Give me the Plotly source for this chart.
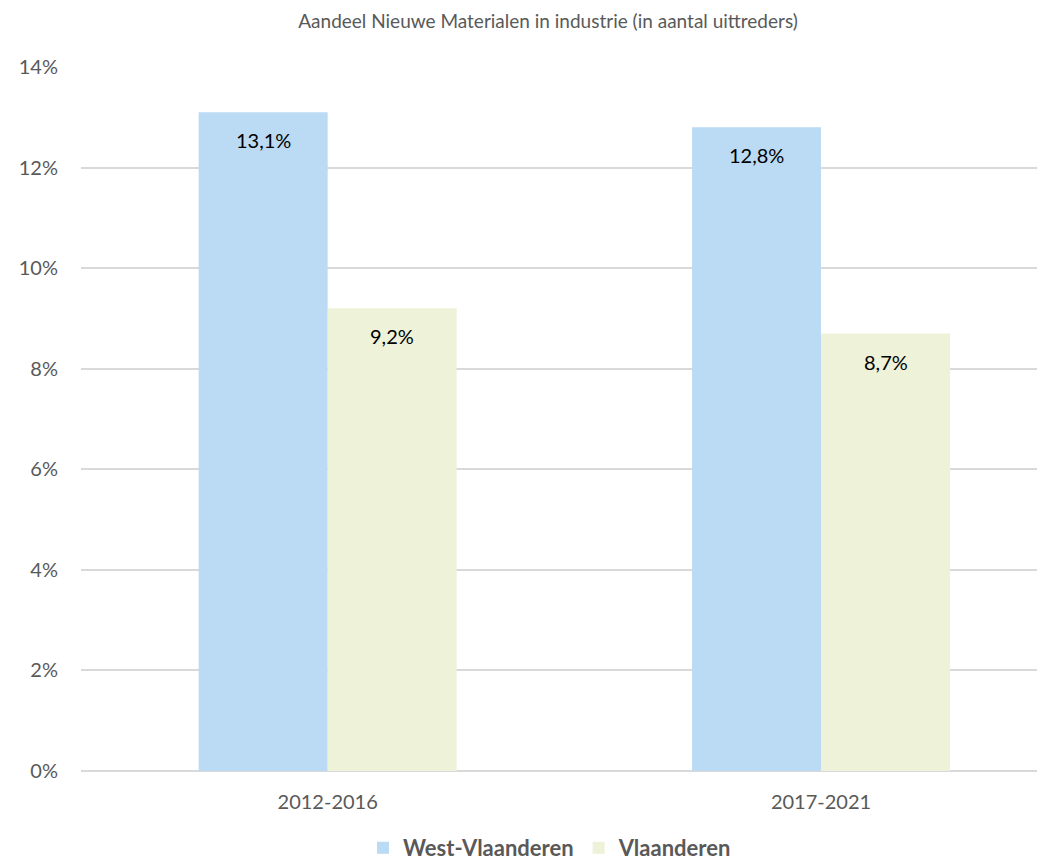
import plotly.graph_objects as go

categories = ["2012-2016", "2017-2021"]
series_names = ["West-Vlaanderen", "Vlaanderen"]
west_vlaanderen = [0.131, 0.128]
vlaanderen = [0.092, 0.087]
y_tick_vals = [0, 0.02, 0.04, 0.06, 0.08, 0.10, 0.12, 0.14]
y_tick_text = ["0%", "2%", "4%", "6%", "8%", "10%", "12%", "14%"]
title_text = "Aandeel Nieuwe Materialen in industrie (in aantal uittreders)"

colors = ["#BBDAF4", "#EDF2D8"]
FONT = "Lato, 'Open Sans', sans-serif"
GRAY = "#595959"

W, H = 1045, 865
OFF = 8  # default page body margin

def fmt(v):
    return f"{v*100:.1f}%".replace(".", ",")

fig = go.Figure()
for name, vals, col in zip(series_names, [west_vlaanderen, vlaanderen], colors):
    fig.add_trace(go.Bar(
        name=name, x=categories, y=vals, marker=dict(color=col, line=dict(width=0)),
        hoverinfo="skip",
    ))

bargap = 0.477
half = 0.5 * (1 - bargap) / 2
for s, vals in enumerate([west_vlaanderen, vlaanderen]):
    offset = -half if s == 0 else half
    for i, v in enumerate(vals):
        fig.add_annotation(x=i + offset, y=v, xref="x", yref="y", text=fmt(v),
                           showarrow=False, yshift=-28,
                           font=dict(family=FONT, size=20, color="#000000"))

fig.update_layout(
    width=W, height=H,
    margin=dict(l=81 - OFF, r=OFF, t=67 - OFF, b=H - (771 - OFF)),
    paper_bgcolor="white", plot_bgcolor="white",
    barmode="group", bargap=bargap, bargroupgap=0,
    title=dict(text=title_text, x=(548 - OFF) / W, xanchor="center", xref="container",
               y=1 - (21 - OFF) / H, yanchor="middle", yref="container",
               font=dict(family=FONT, size=19, color=GRAY)),
    legend=dict(orientation="h", x=(550 - OFF) / W, xanchor="center", xref="container",
                y=1 - (848 - OFF) / H, yanchor="middle", yref="container",
                font=dict(family=FONT, size=22, color=GRAY, weight="bold"),
                itemwidth=30, tracegroupgap=0),
    showlegend=True,
)
fig.update_xaxes(type="category", range=[-0.5, 1.454], showgrid=False, showline=False,
                 zeroline=False, ticks="outside", ticklen=13, tickcolor="rgba(0,0,0,0)",
                 tickfont=dict(family=FONT, size=20, color=GRAY))
fig.update_yaxes(range=[0, 0.14], tickvals=y_tick_vals, ticktext=y_tick_text,
                 showgrid=True, gridcolor="#D9D9D9", gridwidth=1.5,
                 zeroline=True, zerolinecolor="#D9D9D9", zerolinewidth=1.5,
                 showline=False, ticks="outside", ticklen=18, tickcolor="rgba(0,0,0,0)",
                 tickfont=dict(family=FONT, size=20, color=GRAY))

fig.write_html("out.html")
